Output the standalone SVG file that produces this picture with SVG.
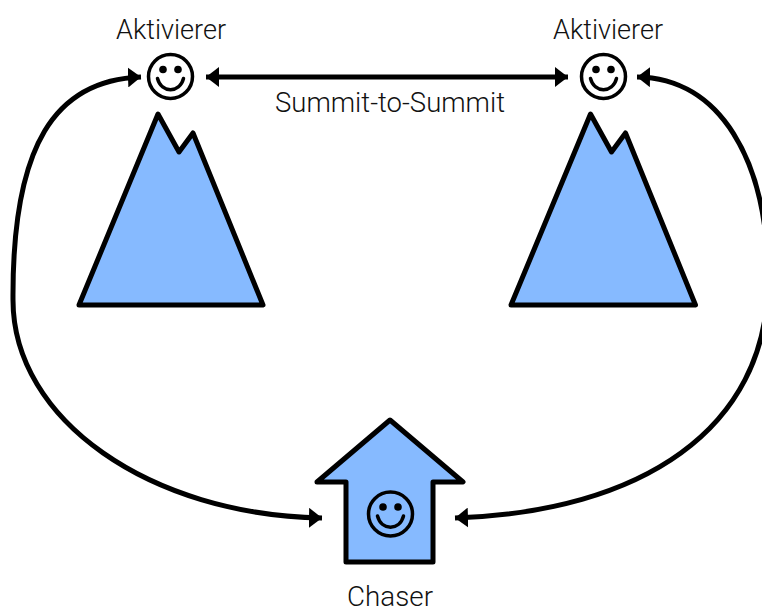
<svg xmlns="http://www.w3.org/2000/svg" width="762" height="609" viewBox="0 0 762 609">
<style>
.shape{fill:#86baff;stroke:#000;stroke-width:5;stroke-linejoin:round}
.conn{fill:none;stroke:#000;stroke-width:5}
.face{fill:none;stroke:#000;stroke-width:3.5}
.mouth{fill:none;stroke:#000;stroke-width:3.5;stroke-linecap:round}
.lbl{font-family:Roboto,"Liberation Sans",sans-serif;font-weight:300;font-size:27px;fill:#111;text-anchor:middle}
</style>
<defs>
<marker id="ah" markerUnits="userSpaceOnUse" markerWidth="14" markerHeight="20" refX="13" refY="10" orient="auto-start-reverse"><path d="M0 0L13 10L0 20Z" fill="#000"/></marker>
<g id="smiley"><circle r="22" class="face"/><circle cx="-7.500" cy="-7" r="3.800"/><circle cx="7.500" cy="-7" r="3.800"/><path d="M-13 2C-9 17 9 17 13 2" class="mouth"/></g>
</defs>
<g id="connectors">
<path class="conn" d="M141 77C55 80 12 145 13 300C13 420 150 515 322 518" marker-start="url(#ah)" marker-end="url(#ah)"/>
<path class="conn" d="M637 77C720 78 768 160 768 280C768 430 640 512 455 518" marker-start="url(#ah)" marker-end="url(#ah)"/>
<path class="conn" d="M206 77H568" marker-start="url(#ah)" marker-end="url(#ah)"/>
</g>
<g id="mountain-left"><path class="shape" d="M79 305L158 114L179 152L193 133L263 305Z"/></g>
<g id="mountain-right"><path class="shape" d="M511 305L590.500 114L611.500 152L625.500 133L695.500 305Z"/></g>
<g id="activator-left"><use href="#smiley" x="170.500" y="76.500"/><text class="lbl" x="171" y="39" textLength="110" lengthAdjust="spacingAndGlyphs">Aktivierer</text></g>
<g id="activator-right"><use href="#smiley" x="603.500" y="76.500"/><text class="lbl" x="608" y="39" textLength="110" lengthAdjust="spacingAndGlyphs">Aktivierer</text></g>
<g id="chaser"><path class="shape" d="M390 420L463 482H433V562H346V482H317Z"/><use href="#smiley" x="390.500" y="514"/><text class="lbl" x="390" y="606" textLength="86" lengthAdjust="spacingAndGlyphs">Chaser</text></g>
<g id="edge-label"><text class="lbl" x="390" y="112" textLength="230" lengthAdjust="spacingAndGlyphs">Summit-to-Summit</text></g>
</svg>
